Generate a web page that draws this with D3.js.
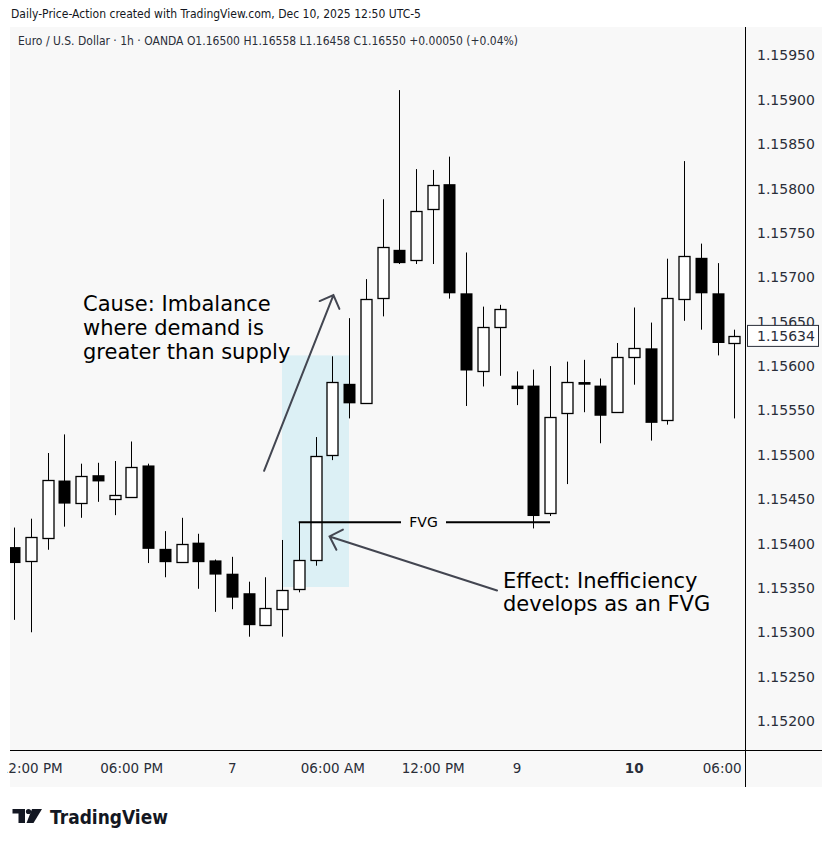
<!DOCTYPE html>
<html><head><meta charset="utf-8">
<script src="https://cdn.jsdelivr.net/npm/d3@7"></script>
<style>
html,body{margin:0;padding:0;background:#ffffff;}
svg{display:block;}
text{font-family:"DejaVu Sans",sans-serif;}
</style></head>
<body>
<svg id="chart" width="833" height="847"></svg>
<script>
// ---------- DATA ----------
const opens  = [1.15396,1.15380,1.15407,1.15471,1.15446,1.15477,1.15450,1.15452,1.15488,1.15394,
                1.15380,1.15401,1.15381,1.15366,1.15344,1.15308,1.15327,1.15349,1.15382,1.15500,
                1.15580,1.15559,1.15676,1.15731,1.15720,1.15777,1.15805,1.15682,1.15594,1.15644,
                1.15578,1.15578,1.15435,1.15547,1.15582,1.15578,1.15548,1.15610,1.15620,1.15539,
                1.15676,1.15722,1.15682,1.15626];
const highs  = [1.15418,1.15428,1.15502,1.15523,1.15490,1.15491,1.15493,1.15515,1.15490,1.15414,
                1.15429,1.15411,1.15382,1.15385,1.15357,1.15362,1.15404,1.15424,1.15520,1.15611,
                1.15654,1.15698,1.15788,1.15911,1.15822,1.15821,1.15836,1.15728,1.15667,1.15669,
                1.15594,1.15596,1.15600,1.15605,1.15607,1.15586,1.15626,1.15666,1.15649,1.15721,
                1.15831,1.15738,1.15716,1.15641];
const lows   = [1.15314,1.15300,1.15393,1.15419,1.15429,1.15447,1.15432,1.15452,1.15378,1.15362,
                1.15380,1.15349,1.15323,1.15326,1.15295,1.15308,1.15295,1.15345,1.15375,1.15494,
                1.15541,1.15558,1.15656,1.15715,1.15715,1.15715,1.15676,1.15555,1.15577,1.15589,
                1.15556,1.15417,1.15431,1.15467,1.15548,1.15513,1.15548,1.15579,1.15516,1.15534,
                1.15651,1.15641,1.15612,1.15541];
const closes = [1.15378,1.15407,1.15472,1.15445,1.15476,1.15470,1.15455,1.15486,1.15394,1.15379,
                1.15400,1.15379,1.15365,1.15339,1.15308,1.15327,1.15348,1.15382,1.15499,1.15582,
                1.15558,1.15676,1.15734,1.15716,1.15775,1.15804,1.15682,1.15595,1.15644,1.15664,
                1.15574,1.15431,1.15543,1.15582,1.15579,1.15544,1.15610,1.15620,1.15536,1.15677,
                1.15724,1.15682,1.15626,1.15634];

const priceTicks = [1.15200,1.15250,1.15300,1.15350,1.15400,1.15450,1.15500,1.15550,
                    1.15600,1.15650,1.15700,1.15750,1.15800,1.15850,1.15900,1.15950];
const timeTickIdx    = [1, 7, 13, 19, 25, 30, 37, 43];
const timeTickLabels = ["12:00 PM","06:00 PM","7","06:00 AM","12:00 PM","9","10","06:00 AM"];
const timeTickBold   = [false,false,false,false,false,false,true,false];

const lastPrice = 1.15634;

// annotations (candle index, price)
const zoneIdx    = [16, 20];
const zonePrice  = [1.15351, 1.15612];
const fvgIdx     = [17, 32];
const fvgPrice   = 1.15424;
const fvgGap     = [401, 446];
const arrowCause  = {from:[14.93,1.15482], to:[19.07,1.15680]};
const arrowEffect = {from:[28.84,1.15347], to:[18.84,1.15408]};
const causeLines  = ["Cause: Imbalance","where demand is","greater than supply"];
const causeAnchor = [4.12, 1.15662];
const effectLines = ["Effect: Inefficiency","develops as an FVG"];
const effectAnchor= [29.19, 1.15350];

const headerText = "Daily-Price-Action created with TradingView.com, Dec 10, 2025 12:50 UTC-5";
const legendText = "Euro / U.S. Dollar · 1h · OANDA  O1.16500  H1.16558  L1.16458  C1.16550  +0.00050 (+0.04%)";

// ---------- LAYOUT ----------
const svg = d3.select("#chart");
const defs = svg.append("defs");
const panel = {x0:10, x1:822, y0:27, y1:787};
const plot  = {x0:10, x1:745, y0:27, y1:750};

const x = d3.scaleLinear().domain([0, 43]).range([14, 734.25]);
const y = d3.scaleLinear().domain([1.152, 1.1595]).range([721, 55.5]);

svg.append("rect").attr("x",panel.x0).attr("y",panel.y0)
  .attr("width",panel.x1-panel.x0).attr("height",panel.y1-panel.y0).attr("fill","#f8f8f8");

svg.append("text").attr("x",11).attr("y",18).attr("font-size",12.5).attr("fill","#131722")
  .attr("textLength",410).attr("lengthAdjust","spacingAndGlyphs").text(headerText);

defs.append("clipPath").attr("id","plotclip").append("rect")
  .attr("x",plot.x0).attr("y",plot.y0).attr("width",plot.x1-plot.x0).attr("height",plot.y1-plot.y0);

const g = svg.append("g").attr("clip-path","url(#plotclip)");

// highlight zone
g.append("rect")
  .attr("x",x(zoneIdx[0])).attr("width",x(zoneIdx[1])-x(zoneIdx[0]))
  .attr("y",y(zonePrice[1])).attr("height",y(zonePrice[0])-y(zonePrice[1]))
  .attr("fill","#dcf0f5");

// legend text
svg.append("text").attr("x",18).attr("y",45).attr("font-size",12.5).attr("fill","#2a2e39")
  .attr("textLength",500).attr("lengthAdjust","spacingAndGlyphs").text(legendText);

// candles
const data = opens.map((o,i)=>({i, o, h:highs[i], l:lows[i], c:closes[i]}));
const bodyW = 12;
const cg = g.append("g");
data.forEach(d=>{
  const cx = Math.round(x(d.i)) + 0.5;
  const up = d.c >= d.o;
  cg.append("line").attr("x1",cx).attr("x2",cx).attr("y1",y(d.h)).attr("y2",y(d.l))
    .attr("stroke","#000").attr("stroke-width",1);
  const top = y(Math.max(d.o,d.c)), bot = y(Math.min(d.o,d.c));
  if (up) {
    cg.append("rect").attr("x",cx-bodyW/2+0.5).attr("y",Math.round(top)+0.5)
      .attr("width",bodyW-1).attr("height",Math.max(1,Math.round(bot-top)))
      .attr("fill","#ffffff").attr("stroke","#000").attr("stroke-width",1.3);
  } else {
    cg.append("rect").attr("x",cx-bodyW/2).attr("y",top)
      .attr("width",bodyW).attr("height",Math.max(2,bot-top)).attr("fill","#000");
  }
});

// FVG line
const fy = y(fvgPrice);
g.append("line").attr("x1",x(fvgIdx[0])).attr("x2",fvgGap[0]).attr("y1",fy).attr("y2",fy)
  .attr("stroke","#000").attr("stroke-width",2);
g.append("line").attr("x1",fvgGap[1]).attr("x2",x(fvgIdx[1])).attr("y1",fy).attr("y2",fy)
  .attr("stroke","#000").attr("stroke-width",2);
g.append("text").attr("x",(fvgGap[0]+fvgGap[1])/2).attr("y",fy).attr("dy","0.36em")
  .attr("text-anchor","middle").attr("font-size",14).attr("fill","#000").text("FVG");

// arrows
function arrow(a){
  const x1=x(a.from[0]), y1=y(a.from[1]), x2=x(a.to[0]), y2=y(a.to[1]);
  const ang = Math.atan2(y1-y2, x1-x2);
  const L = 15, spread = Math.PI/4;
  const p = d3.path();
  p.moveTo(x1,y1); p.lineTo(x2,y2);
  p.moveTo(x2+L*Math.cos(ang-spread), y2+L*Math.sin(ang-spread));
  p.lineTo(x2,y2);
  p.lineTo(x2+L*Math.cos(ang+spread), y2+L*Math.sin(ang+spread));
  g.append("path").attr("d",p.toString()).attr("fill","none")
    .attr("stroke","#434651").attr("stroke-width",2).attr("stroke-linecap","round");
}
arrow(arrowCause); arrow(arrowEffect);

// annotation texts
function textBlock(lines, anchor, lh){
  const t = g.append("text").attr("x",x(anchor[0])).attr("y",y(anchor[1]))
    .attr("font-size",21).attr("fill","#000");
  lines.forEach((s,k)=>{
    t.append("tspan").attr("x",x(anchor[0])).attr("y",y(anchor[1])+k*lh).text(s);
  });
}
textBlock(causeLines, causeAnchor, 23.8);
textBlock(effectLines, effectAnchor, 23.5);

// separators
svg.append("line").attr("x1",745.5).attr("x2",745.5).attr("y1",panel.y0).attr("y2",panel.y1)
  .attr("stroke","#000").attr("stroke-width",1);
svg.append("line").attr("x1",panel.x0).attr("x2",panel.x1).attr("y1",750.5).attr("y2",750.5)
  .attr("stroke","#000").attr("stroke-width",1);

// price axis
const ly = y(lastPrice);
const boxTop = ly - 10.5, boxBot = ly + 10.5;
const yAxis = d3.axisRight(y).tickValues(priceTicks).tickSize(0).tickPadding(0)
  .tickFormat(d3.format(".5f"));
const ya = svg.append("g").attr("transform","translate(757,0)").call(yAxis);
ya.select(".domain").remove();
ya.selectAll("text").attr("font-size",14).attr("fill","#2a2e39")
  .attr("font-family","DejaVu Sans, sans-serif");
// labels partially hidden by the last-price box: keep only their visible part
ya.selectAll(".tick").each(function(d,k){
  const ty = y(d);
  if (ty + 8 > boxTop && ty - 8 < boxBot) {
    const id = "tickclip" + k;
    const r = defs.append("clipPath").attr("id",id).append("rect").attr("x",-20).attr("width",120);
    if (ty < ly) r.attr("y",-30).attr("height",boxTop - ty + 30);
    else r.attr("y",boxBot - ty).attr("height",40);
    d3.select(this).select("text").attr("clip-path","url(#"+id+")");
  }
});

// last price label
svg.append("rect").attr("x",747.5).attr("y",boxTop).attr("width",71).attr("height",21)
  .attr("fill","#ffffff").attr("stroke","#2a2e39").attr("stroke-width",1);
svg.append("text").attr("x",757).attr("y",ly).attr("dy","0.35em").attr("font-size",14)
  .attr("fill","#2a2e39").text(d3.format(".5f")(lastPrice));

// time axis
defs.append("clipPath").attr("id","timeclip").append("rect")
  .attr("x",plot.x0-3).attr("y",751).attr("width",plot.x1-plot.x0+2).attr("height",35);
const xAxis = d3.axisBottom(x).tickValues(timeTickIdx).tickSize(0).tickPadding(0)
  .tickFormat((d,k)=>timeTickLabels[k]);
const xa = svg.append("g").attr("clip-path","url(#timeclip)")
  .append("g").attr("transform","translate(0,763)").call(xAxis);
xa.select(".domain").remove();
xa.selectAll("text").attr("font-size",13.5).attr("fill","#2a2e39")
  .attr("font-family","DejaVu Sans, sans-serif")
  .attr("font-weight",(d,k)=>timeTickBold[k]?"bold":"normal");

// logo
const lg = svg.append("g").attr("fill","#131722");
lg.append("path").attr("d","M12.5,809 H25 V823 H18.5 V813.5 H12.5 Z");
lg.append("circle").attr("cx",28.5).attr("cy",811.5).attr("r",2.6);
lg.append("path").attr("d","M32,809 H42 L33.5,823 H26.5 Z");
svg.append("text").attr("x",50).attr("y",823.5).attr("font-size",19.5).attr("font-weight","bold")
  .attr("fill","#131722").attr("textLength",118).attr("lengthAdjust","spacingAndGlyphs")
  .text("TradingView");
</script>
</body></html>
